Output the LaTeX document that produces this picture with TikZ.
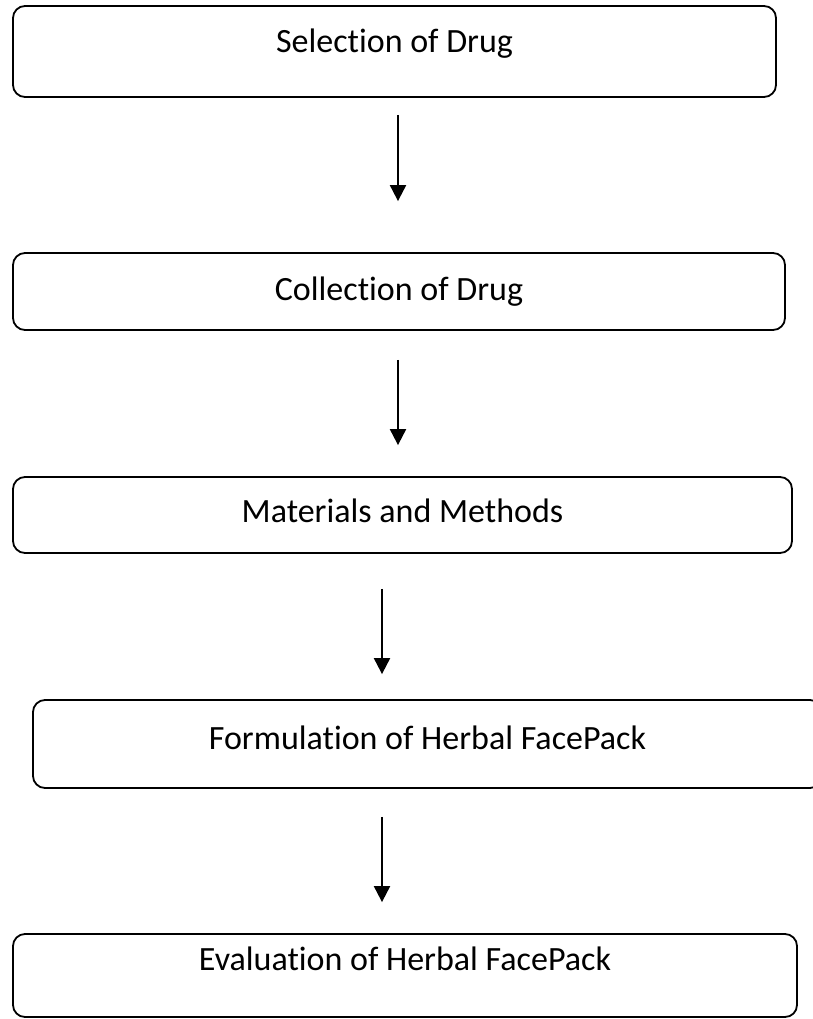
\documentclass[tikz,border=0pt]{standalone}
\usepackage{fontspec}
\setmainfont{Carlito}[Ligatures=NoCommon]
\usetikzlibrary{arrows.meta}

\begin{document}
\begin{tikzpicture}[
    x=1pt, y=1pt,
    stage/.style={draw, rounded corners=12pt, line width=1.8pt, align=center,
                  font=\fontsize{34}{40}\selectfont,
                  text height=20pt, text depth=#1},
    stage/.default=8pt,
    arr/.style={-{Triangle[length=16pt, width=16pt]}, line width=2pt}
]
\useasboundingbox (0,0) rectangle (813,-1019);

\node[stage=17pt, minimum width=763pt, minimum height=91pt]
    (select) at (394.5,-51.5) {Selection of Drug};
\node[stage=3pt, minimum width=772pt, minimum height=77pt]
    (collect) at (399,-291.5) {Collection of Drug};
\node[stage=6pt, minimum width=779pt, minimum height=76pt]
    (methods) at (402.5,-515) {Materials and Methods};
\node[stage=10pt, minimum width=789pt, minimum height=88pt]
    (formul) at (427.5,-744) {Formulation of Herbal FacePack};
\node[stage=31pt, minimum width=784pt, minimum height=83pt]
    (evalu) at (405,-975.5) {Evaluation of Herbal FacePack};

% arrow columns
\coordinate (ax1) at (398,0);
\coordinate (ax2) at (398,0);
\coordinate (ax3) at (382,0);
\coordinate (ax4) at (382,0);

\draw[arr, shorten <=17pt, shorten >=51pt] (select.south -| ax1) -- (collect.north -| ax1);
\draw[arr, shorten <=29pt, shorten >=31pt] (collect.south -| ax2) -- (methods.north -| ax2);
\draw[arr, shorten <=35pt, shorten >=25pt] (methods.south -| ax3) -- (formul.north -| ax3);
\draw[arr, shorten <=28pt, shorten >=31pt] (formul.south -| ax4) -- (evalu.north -| ax4);

\end{tikzpicture}
\end{document}
